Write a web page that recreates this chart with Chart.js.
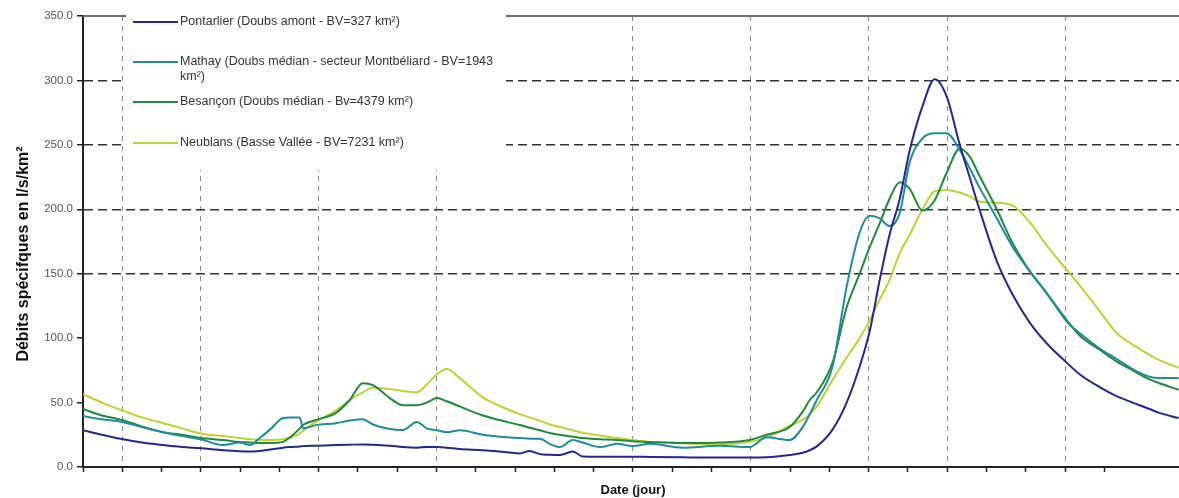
<!DOCTYPE html>
<html>
<head>
<meta charset="utf-8">
<script src="https://cdn.jsdelivr.net/npm/chart.js@4.4.1/dist/chart.umd.min.js"></script>
<style>
  html, body { margin: 0; padding: 0; background: #fff; }
  #wrap { width: 1179px; height: 498px; position: relative; }
</style>
</head>
<body>
<div id="wrap"><canvas id="debits"></canvas></div>
<script>
// x in tick units (one tick = one step of the date axis)
const days = [0, 0.48, 0.99, 1.50, 2.04, 2.52, 3.00, 3.56, 3.99, 4.25, 4.50, 4.76, 5.09, 5.27, 5.52, 5.60,
  5.93, 6.44, 6.79, 7.12, 7.38, 7.81, 8.14, 8.50, 8.75, 9.01, 9.26, 9.59, 10.18, 10.79, 11.12, 11.37,
  11.63, 11.88, 12.14, 12.47, 12.72, 13.16, 13.59, 13.99, 14.43, 15.27, 16.21, 16.97, 17.40, 17.99,
  18.32, 18.50, 18.68, 19.08, 19.44, 19.77, 20.03, 20.28, 20.53, 20.79, 21.04, 21.37, 21.68, 21.98,
  22.32, 22.57, 22.82, 23.26, 23.66, 24.10, 24.53, 25.04, 25.37, 25.88, 26.31, 26.72, 27.15, 27.40, 27.89];

const pontarlier = [28.5, 25, 21.7, 19, 17, 15.5, 14.5, 13, 12.2, 12, 12.5, 13.5, 15, 15.5, 16, 16.2,
  16.5, 17, 17.3, 17.5, 17.3, 16.5, 15.5, 15, 15.5, 15.5, 15, 14, 13, 11.5, 10.5, 12.5,
  10, 9.5, 9.3, 12, 8.2, 8, 8, 8, 7.8, 7.5, 7.3, 7.3, 7.5, 9.3,
  11, 13, 16, 29, 50, 78, 106, 145, 180, 208, 245, 280, 301, 288,
  250, 225, 200, 160, 134, 112, 96, 81, 72, 62, 55, 50, 45, 42, 38];

const mathay = [39.5, 37, 35, 31, 27, 24, 21.5, 17, 19, 17, 22.5, 29, 38, 38.5, 38.5, 30,
  32.5, 34, 36, 37, 33, 29.5, 28.7, 35, 30, 28.5, 27, 28.5, 25, 23, 22.5, 22,
  22, 18, 15.5, 21, 19, 15.5, 18, 16.3, 18, 15, 16.5, 15.5, 23, 21,
  31, 41, 52, 78, 140, 182, 195, 193, 187, 197, 236, 255, 259, 259,
  246, 232, 217, 193, 171, 152, 135, 113, 104, 92, 84, 76, 70, 69, 69];

const besancon = [45, 40, 36.5, 31.5, 27, 25, 22.5, 21, 19.4, 19, 18.6, 18.6, 19.5, 23, 30, 32.6,
  36.5, 42, 52, 65, 63.5, 53.5, 48, 48, 50, 53.5, 51, 47, 40, 35, 32.6, 30.5,
  28.5, 26.4, 25, 23.5, 22.5, 21.5, 21, 20, 19.4, 18.6, 19, 21, 25, 31,
  43, 52, 58, 81, 124, 150, 171, 189, 208, 221, 216, 199, 207, 228,
  247, 241, 226, 200, 174, 152, 135, 114, 102, 91, 82, 75, 68, 65, 60];

const neublans = [56.5, 50, 44, 38.5, 34, 30, 26, 24, 22.5, 21.5, 21, 21, 21.5, 23, 26, 28,
  35, 44, 52, 58, 61.5, 60.5, 59, 58, 64, 72, 76, 69, 54, 45, 41, 38.5,
  36, 33, 31, 28.5, 26.5, 24.5, 22.5, 21, 19.5, 18.5, 17.5, 19.5, 23, 32,
  36.5, 41, 47, 67.5, 85, 100, 114, 130, 145, 166, 180, 200, 214, 215,
  213, 210, 206, 205, 203, 190, 172, 153, 141, 121, 104, 95, 87, 83, 77];

const seriesNames = [
  ['Pontarlier (Doubs amont - BV=327 km²)'],
  ['Mathay (Doubs médian - secteur Montbéliard - BV=1943', 'km²)'],
  ['Besançon (Doubs médian - Bv=4379 km²)'],
  ['Neublans (Basse Vallée - BV=7231 km²)']
];
const seriesColors = ['#28268c', '#1f8c9c', '#21893c', '#bcd431'];
const seriesValues = [pontarlier, mathay, besancon, neublans];

const yMax = 350;
const yStep = 50;
const hGridValues = [150, 200, 250, 300];
const vGridDays = [1, 3, 6, 9, 14, 17, 20, 22, 25];
const xMax = 27.9;

const FONT = 'Arial, "Liberation Sans", sans-serif';

// legend box + top border line, drawn over the grid, under the curves
const legendBox = {
  id: 'legendBox',
  beforeDatasetsDraw(chart) {
    const { ctx, chartArea } = chart;
    const yTop = chart.scales.y.getPixelForValue(yMax);
    ctx.save();
    ctx.strokeStyle = '#707070';
    ctx.lineWidth = 2;
    ctx.beginPath();
    ctx.moveTo(chartArea.left, yTop);
    ctx.lineTo(chartArea.right, yTop);
    ctx.stroke();

    ctx.fillStyle = '#fff';
    ctx.fillRect(126, 0, 380, 170);

    const rows = [22, 62, 102, 143];
    ctx.font = '12.5px ' + FONT;
    ctx.textBaseline = 'middle';
    seriesNames.forEach((lines, i) => {
      ctx.strokeStyle = seriesColors[i];
      ctx.lineWidth = 2;
      ctx.beginPath();
      ctx.moveTo(133, rows[i]);
      ctx.lineTo(178, rows[i]);
      ctx.stroke();
      ctx.fillStyle = '#333';
      lines.forEach((t, j) => ctx.fillText(t, 180, rows[i] + j * 15));
    });
    ctx.restore();
  },
  afterDraw(chart) {
    const { ctx } = chart;
    ctx.save();
    ctx.fillStyle = '#111';
    ctx.textAlign = 'center';
    ctx.textBaseline = 'middle';
    ctx.font = 'bold 13px ' + FONT;
    ctx.fillText('Date (jour)', 633, 490);
    ctx.translate(24, 254);
    ctx.rotate(-Math.PI / 2);
    ctx.font = 'bold 16px ' + FONT;
    ctx.fillText('Débits spécifques en l/s/km²', 0, 0);
    ctx.restore();
  }
};

new Chart(document.getElementById('debits'), {
  type: 'line',
  data: {
    datasets: seriesValues.map((vals, i) => ({
      label: seriesNames[i].join(' '),
      data: vals.map((v, k) => ({ x: days[k], y: v })),
      borderColor: seriesColors[i],
      borderWidth: 2,
      pointRadius: 0,
      fill: false,
      cubicInterpolationMode: 'monotone'
    }))
  },
  options: {
    responsive: true,
    maintainAspectRatio: false,
    animation: false,
    layout: { padding: { top: 16, right: 0, left: 0, bottom: 0 } },
    plugins: {
      legend: { display: false },
      tooltip: { enabled: false }
    },
    scales: {
      x: {
        type: 'linear',
        min: 0,
        max: xMax,
        afterBuildTicks: (scale) => {
          scale.ticks = scale.ticks.filter((t) => Number.isInteger(t.value));
        },
        afterFit: (scale) => { scale.height = 31; },
        ticks: { display: false, stepSize: 1 },
        grid: {
          color: (c) => (vGridDays.includes(c.tick && c.tick.value) ? '#8a8a8a' : 'rgba(0,0,0,0)'),
          lineWidth: 1,
          tickColor: '#222',
          tickLength: 5,
          tickWidth: 1.5
        },
        border: { color: '#222', width: 2, dash: [5, 5] }
      },
      y: {
        min: 0,
        max: yMax,
        afterFit: (scale) => { scale.width = 83; },
        ticks: {
          stepSize: yStep,
          color: '#555',
          font: { family: FONT, size: 11.5 },
          padding: 4,
          callback: (v) => v.toFixed(1)
        },
        grid: {
          color: (c) => (hGridValues.includes(c.tick && c.tick.value) ? '#333' : 'rgba(0,0,0,0)'),
          lineWidth: 1.5,
          tickColor: '#222',
          tickLength: 6,
          tickWidth: 1.5
        },
        border: { color: '#222', width: 2, dash: [9, 5] }
      }
    }
  },
  plugins: [legendBox]
});
</script>
</body>
</html>
